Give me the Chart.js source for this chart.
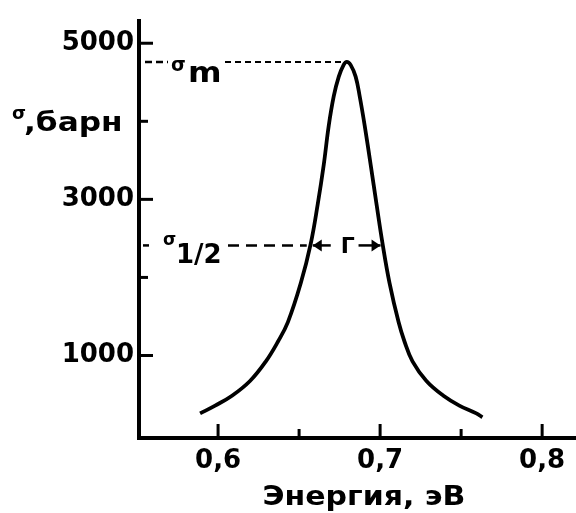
<!DOCTYPE html>
<html>
<head>
<meta charset="utf-8">
<script src="https://cdn.jsdelivr.net/npm/chart.js@4"></script>
<style>
  html, body { margin: 0; padding: 0; background: #fff; }
  #wrap { width: 576px; height: 513px; }
</style>
</head>
<body>
<div id="wrap"><canvas id="res"></canvas></div>
<script>
// resonance curve
const energy = [0.5889, 0.5982, 0.6086, 0.6197, 0.6295, 0.6369, 0.6431, 0.6511, 0.6572, 0.6615, 0.6652,
                0.6683, 0.6714, 0.6745, 0.6775, 0.6794, 0.6818, 0.6849, 0.6874, 0.6905, 0.6942, 0.6978,
                0.7015, 0.7058, 0.7114, 0.7151, 0.7200, 0.7286, 0.7391, 0.7489, 0.7594, 0.7631];
const sigma = [258, 358, 484, 673, 925, 1176, 1428, 1931, 2434, 2937, 3440,
               3943, 4321, 4572, 4723, 4761, 4723, 4572, 4321, 3943, 3440, 2937,
               2434, 1931, 1428, 1176, 925, 673, 484, 358, 258, 208];

const xTicks = [0.6, 0.65, 0.7, 0.75, 0.8];
const xLabels = ['0,6', '', '0,7', '', '0,8'];
const yTicks = [1000, 2000, 3000, 4000, 5000];
const yLabels = ['1000', '', '3000', '', '5000'];

const peakE = 0.6794, peakSigma = 4761;
const halfSigma = 2410, halfLeft = 0.6572, halfRight = 0.7015;

const FONT = '"DejaVu Sans", sans-serif';

function wideText(ctx, text, px, py, sx) {
  ctx.save();
  ctx.translate(px, py);
  ctx.scale(sx, 1);
  ctx.fillText(text, 0, 0);
  ctx.restore();
}

const extras = {
  id: 'extras',
  afterDraw(chart) {
    const { ctx, chartArea: ca } = chart;
    const x = chart.scales.x, y = chart.scales.y;
    ctx.save();
    ctx.strokeStyle = '#000';
    ctx.fillStyle = '#000';

    // inward ticks
    ctx.lineWidth = 3;
    ctx.setLineDash([]);
    yTicks.forEach((v, i) => {
      const py = y.getPixelForValue(v);
      const len = yLabels[i] ? 14 : 9;
      ctx.beginPath(); ctx.moveTo(ca.left, py); ctx.lineTo(ca.left + len, py); ctx.stroke();
    });
    xTicks.forEach((v, i) => {
      const px = x.getPixelForValue(v);
      const len = xLabels[i] ? 14 : 9;
      ctx.beginPath(); ctx.moveTo(px, ca.bottom); ctx.lineTo(px, ca.bottom - len); ctx.stroke();
    });

    // sigma_m level
    const pm = y.getPixelForValue(peakSigma);
    ctx.lineWidth = 2.5;
    ctx.setLineDash([7, 4]);
    ctx.beginPath(); ctx.moveTo(ca.left + 6, pm); ctx.lineTo(ca.left + 29, pm); ctx.stroke();
    ctx.lineWidth = 2;
    ctx.setLineDash([6, 4]);
    ctx.beginPath(); ctx.moveTo(ca.left + 86, pm); ctx.lineTo(x.getPixelForValue(peakE) - 2, pm); ctx.stroke();
    ctx.setLineDash([]);
    ctx.textAlign = 'left';
    ctx.textBaseline = 'alphabetic';
    ctx.font = 'bold 19px ' + FONT;
    ctx.fillText('σ', ca.left + 32, pm + 9);
    ctx.font = 'bold 28px ' + FONT;
    wideText(ctx, 'm', ca.left + 49, pm + 20, 1.15);

    // half height
    const ph = y.getPixelForValue(halfSigma);
    const xl = x.getPixelForValue(halfLeft), xr = x.getPixelForValue(halfRight);
    ctx.lineWidth = 2.5;
    ctx.beginPath(); ctx.moveTo(ca.left + 4, ph); ctx.lineTo(ca.left + 10, ph); ctx.stroke();
    ctx.setLineDash([11, 7]);
    ctx.beginPath(); ctx.moveTo(ca.left + 89, ph); ctx.lineTo(xl - 4, ph); ctx.stroke();
    ctx.setLineDash([]);
    ctx.font = 'bold 17px ' + FONT;
    ctx.fillText('σ', ca.left + 24, ph);
    ctx.font = 'bold 26px ' + FONT;
    ctx.fillText('1/2', ca.left + 37, ph + 18);

    // Gamma arrows
    const arrow = (from, to) => {
      const d = Math.sign(to - from);
      ctx.beginPath(); ctx.moveTo(from, ph); ctx.lineTo(to, ph); ctx.stroke();
      ctx.beginPath();
      ctx.moveTo(to, ph); ctx.lineTo(to - d * 9, ph - 6); ctx.lineTo(to - d * 9, ph + 6); ctx.closePath();
      ctx.fill();
    };
    arrow(xl + 20, xl + 2);
    arrow(xr - 24, xr - 2);
    ctx.font = 'bold 22px ' + FONT;
    ctx.textAlign = 'center';
    ctx.fillText('Г', (xl + xr) / 2 + 1, ph + 8);

    // y title
    ctx.textAlign = 'left';
    const py4 = y.getPixelForValue(4000);
    ctx.font = 'bold 18px ' + FONT;
    ctx.fillText('σ', 12, py4 - 2);
    ctx.font = 'bold 26px ' + FONT;
    wideText(ctx, ',барн', 24, py4 + 10, 1.2);

    // x title
    ctx.textAlign = 'center';
    ctx.font = 'bold 27px ' + FONT;
    wideText(ctx, 'Энергия, эВ', x.getPixelForValue(0.69), 505, 1.11);
    ctx.restore();
  }
};

new Chart(document.getElementById('res'), {
  type: 'scatter',
  data: {
    datasets: [{
      data: energy.map((e, i) => ({ x: e, y: sigma[i] })),
      showLine: true,
      borderColor: '#000',
      borderWidth: 3.8,
      pointRadius: 0,
      tension: 0.4
    }]
  },
  options: {
    responsive: true,
    maintainAspectRatio: false,
    animation: false,
    layout: { padding: { top: 13, left: 0, right: 0, bottom: 0 } },
    plugins: { legend: { display: false }, tooltip: { enabled: false } },
    scales: {
      x: {
        type: 'linear',
        min: 0.5512,
        max: 0.8209,
        afterBuildTicks: s => { s.ticks = xTicks.map(v => ({ value: v })); },
        afterFit: s => { s.height = 75; },
        grid: { display: true, drawOnChartArea: false, drawTicks: false, lineWidth: 0 },
        border: { display: true, color: '#000', width: 4 },
        ticks: {
          padding: 8,
          color: '#000',
          font: { family: FONT, size: 26, weight: 'bold' },
          maxRotation: 0,
          autoSkip: false,
          callback: (v, i) => xLabels[i]
        }
      },
      y: {
        min: -57,
        max: 5290,
        afterBuildTicks: s => { s.ticks = yTicks.map(v => ({ value: v })); },
        afterFit: s => { s.width = 139; },
        grid: { display: true, drawOnChartArea: false, drawTicks: false, lineWidth: 0 },
        border: { display: true, color: '#000', width: 4 },
        ticks: {
          padding: 5,
          color: '#000',
          font: { family: FONT, size: 26, weight: 'bold' },
          autoSkip: false,
          callback: (v, i) => yLabels[i]
        }
      }
    }
  },
  plugins: [extras]
});
</script>
</body>
</html>
